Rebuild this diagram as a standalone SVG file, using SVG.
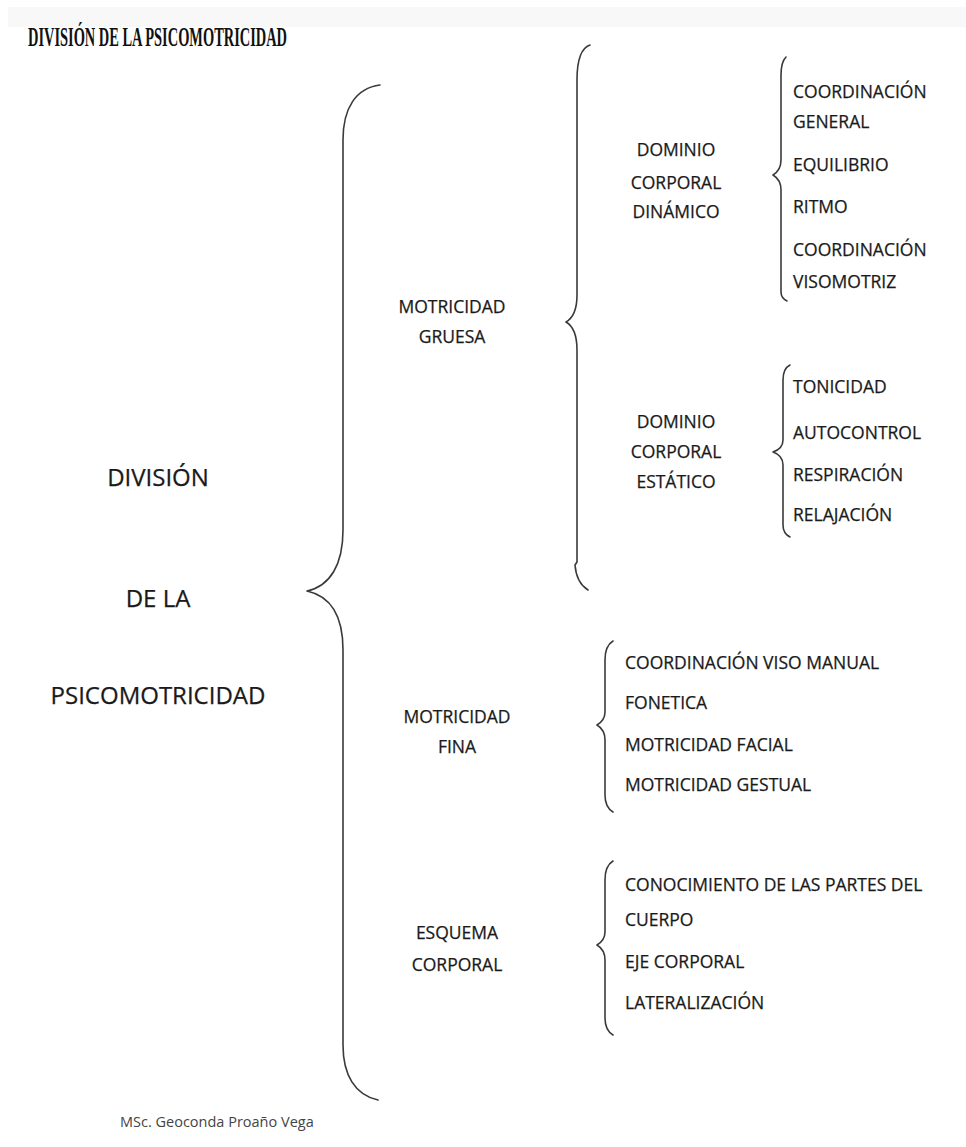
<svg xmlns="http://www.w3.org/2000/svg" width="966" height="1147" viewBox="0 0 966 1147">
<style>
.t{font-family:"Open Sans","Liberation Sans",sans-serif;fill:#1a1a1a;stroke:#1a1a1a;stroke-width:0.25}
.m{font-size:17.5px;text-anchor:middle}
.r{font-size:17.5px}
.big{font-size:24px;text-anchor:middle}
.br{fill:none;stroke:#3a3a3a;stroke-width:1.6;stroke-linecap:round;stroke-linejoin:round}
</style>
<rect x="0" y="0" width="966" height="1147" fill="#ffffff"/>
<rect x="8" y="7" width="958" height="20" fill="#f8f8f8"/>
<g id="title">
<text x="28" y="46" font-family="'Liberation Serif',serif" font-weight="bold" font-size="27.5" fill="#111" textLength="259" lengthAdjust="spacingAndGlyphs">DIVISIÓN DE LA PSICOMOTRICIDAD</text>
</g>
<g id="connectors">
<path class="br" d="M380,85 C356,88 343,108 343,140 L343,530 C343,565 330,586 307,591 C330,596 343,615 343,650 L343,1045 C343,1075 355,1095 378,1100"/>
<path class="br" d="M590,45 C581,48 577,60 577,80 L577,295 C577,310 573,318 566,322 C573,326 577,334 577,350 L577,562 L575,565 C576,578 580,585 588,590"/>
<path class="br" d="M786,57 C783,60 781,66 781,75 L781,160 C781,168 778,172 773,175 C778,178 781,182 781,190 L781,292 C781,296 783,299 787,301"/>
<path class="br" d="M790,365 C786,367 783,372 783,380 L783,440 C783,446 779,450 773,452 C779,454 783,458 783,465 L783,525 C783,531 786,535 790,537"/>
<path class="br" d="M613,641 C608,644 605,650 605,660 L605,712 C605,718 602,722 597,725 C602,728 605,732 605,740 L605,795 C605,804 608,809 613,812"/>
<path class="br" d="M613,861 C608,864 605,870 605,880 L605,932 C605,938 602,942 597,945 C602,948 605,952 605,960 L605,1018 C605,1027 608,1032 613,1035"/>
</g>
<g id="root">
<text class="t big" x="158" y="486">DIVISIÓN</text>
<text class="t big" x="158" y="607">DE LA</text>
<text class="t big" x="158" y="704">PSICOMOTRICIDAD</text>
</g>
<g id="motricidad-gruesa">
<text class="t m" x="452" y="313">MOTRICIDAD</text>
<text class="t m" x="452" y="343">GRUESA</text>
</g>
<g id="dominio-dinamico">
<text class="t m" x="676" y="156">DOMINIO</text>
<text class="t m" x="676" y="189">CORPORAL</text>
<text class="t m" x="676" y="218">DINÁMICO</text>
</g>
<g id="items-dinamico">
<text class="t r" x="793" y="98">COORDINACIÓN</text>
<text class="t r" x="793" y="128">GENERAL</text>
<text class="t r" x="793" y="171">EQUILIBRIO</text>
<text class="t r" x="793" y="213">RITMO</text>
<text class="t r" x="793" y="256">COORDINACIÓN</text>
<text class="t r" x="793" y="288">VISOMOTRIZ</text>
</g>
<g id="dominio-estatico">
<text class="t m" x="676" y="428">DOMINIO</text>
<text class="t m" x="676" y="458">CORPORAL</text>
<text class="t m" x="676" y="488">ESTÁTICO</text>
</g>
<g id="items-estatico">
<text class="t r" x="793" y="393">TONICIDAD</text>
<text class="t r" x="793" y="439">AUTOCONTROL</text>
<text class="t r" x="793" y="481">RESPIRACIÓN</text>
<text class="t r" x="793" y="521">RELAJACIÓN</text>
</g>
<g id="motricidad-fina">
<text class="t m" x="457" y="723">MOTRICIDAD</text>
<text class="t m" x="457" y="753">FINA</text>
</g>
<g id="items-fina">
<text class="t r" x="625" y="669">COORDINACIÓN VISO MANUAL</text>
<text class="t r" x="625" y="709">FONETICA</text>
<text class="t r" x="625" y="751">MOTRICIDAD FACIAL</text>
<text class="t r" x="625" y="791">MOTRICIDAD GESTUAL</text>
</g>
<g id="esquema-corporal">
<text class="t m" x="457" y="939">ESQUEMA</text>
<text class="t m" x="457" y="971">CORPORAL</text>
</g>
<g id="items-esquema">
<text class="t r" x="625" y="891">CONOCIMIENTO DE LAS PARTES DEL</text>
<text class="t r" x="625" y="926">CUERPO</text>
<text class="t r" x="625" y="968">EJE CORPORAL</text>
<text class="t r" x="625" y="1009">LATERALIZACIÓN</text>
</g>
<g id="footer">
<text x="120" y="1127" font-family="'Open Sans','Liberation Sans',sans-serif" font-size="14.5" fill="#444">MSc. Geoconda Proaño Vega</text>
</g>
</svg>
